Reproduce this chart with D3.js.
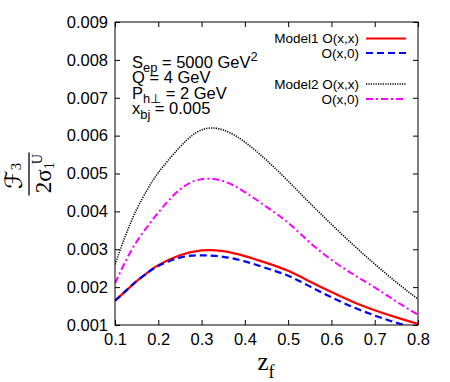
<!DOCTYPE html>
<html>
<head>
<meta charset="utf-8">
<script src="https://cdn.jsdelivr.net/npm/d3@7"></script>
<style>
  body { margin: 0; background: #fff; }
  svg { display: block; }
</style>
</head>
<body>
<div id="chart"></div>
<script>
// values
var zf = [0.1, 0.125, 0.15, 0.175, 0.2, 0.25, 0.3, 0.35, 0.4, 0.45, 0.5, 0.55, 0.6, 0.65, 0.7, 0.75, 0.8];
var model1xx = [0.00164, 0.0019, 0.00216, 0.00238, 0.00258, 0.00284, 0.00297, 0.00295, 0.00282, 0.00264, 0.00243, 0.00215, 0.00187, 0.00161, 0.00139, 0.0012, 0.00103];
var model1x0 = [0.00164, 0.0019, 0.00216, 0.00238, 0.00256, 0.00278, 0.00284, 0.0028, 0.00268, 0.0025, 0.0023, 0.00202, 0.00173, 0.00147, 0.00125, 0.00106, 0.0009];
var model2xx = [0.0026, 0.00338, 0.00405, 0.00458, 0.00502, 0.0057, 0.00615, 0.00615, 0.00583, 0.00535, 0.0048, 0.00422, 0.00366, 0.00312, 0.00261, 0.00213, 0.00168];
var model2x0 = [0.0021, 0.0027, 0.0032, 0.0036, 0.00397, 0.00458, 0.00485, 0.0048, 0.00451, 0.00412, 0.0037, 0.00318, 0.00272, 0.00234, 0.00199, 0.00162, 0.00127];
var xTicks = [0.1, 0.2, 0.3, 0.4, 0.5, 0.6, 0.7, 0.8];
var yTicks = [0.001, 0.002, 0.003, 0.004, 0.005, 0.006, 0.007, 0.008, 0.009];

(function() {
  var W = 450, H = 382;
  var pl = 115, pt = 22, pr = 418, pb = 325;

  var svg = d3.select("#chart").append("svg").attr("width", W).attr("height", H)
    .attr("font-family", "'Liberation Sans', Arial, sans-serif");

  var x = d3.scaleLinear().domain([0.1, 0.8]).range([pl, pr]);
  var y = d3.scaleLinear().domain([0.001, 0.009]).range([pb, pt]);

  var series = [
    { vals: model1xx, color: "#ff0000", dash: null, width: 2.2, label: "Model1 O(x,x)", ly: 38.5 },
    { vals: model1x0, color: "#0000ff", dash: "7,4", width: 2.2, label: "O(x,0)", ly: 53 },
    { vals: model2xx, color: "#000000", dash: "1.2,1.2", width: 1.6, label: "Model2 O(x,x)", ly: 84 },
    { vals: model2x0, color: "#ff00ff", dash: "7,3,2,3", width: 2, label: "O(x,0)", ly: 99 }
  ];

  // clip for curves
  svg.append("clipPath").attr("id", "clip").append("rect")
    .attr("x", pl).attr("y", pt).attr("width", pr - pl).attr("height", pb - pt);

  var line = d3.line().x(function(d) { return x(d[0]); }).y(function(d) { return y(d[1]); }).curve(d3.curveNatural);

  var curves = svg.append("g").attr("clip-path", "url(#clip)");
  series.forEach(function(s) {
    curves.append("path")
      .datum(zf.map(function(z, i) { return [z, s.vals[i]]; }))
      .attr("d", line)
      .attr("fill", "none")
      .attr("stroke", s.color)
      .attr("stroke-width", s.width)
      .attr("stroke-dasharray", s.dash);
  });

  // axes, ticks inward on all sides
  var tk = 5;
  var axB = svg.append("g").attr("transform", "translate(0," + pb + ")")
    .call(d3.axisBottom(x).tickValues(xTicks).tickSizeInner(-tk).tickSizeOuter(0).tickPadding(8).tickFormat(d3.format(".1f")));
  var axT = svg.append("g").attr("transform", "translate(0," + pt + ")")
    .call(d3.axisTop(x).tickValues(xTicks).tickSizeInner(-tk).tickSizeOuter(0).tickFormat(""));
  var axL = svg.append("g").attr("transform", "translate(" + pl + ",0)")
    .call(d3.axisLeft(y).tickValues(yTicks).tickSizeInner(-tk).tickSizeOuter(0).tickPadding(7).tickFormat(d3.format(".3f")));
  var axR = svg.append("g").attr("transform", "translate(" + pr + ",0)")
    .call(d3.axisRight(y).tickValues(yTicks).tickSizeInner(-tk).tickSizeOuter(0).tickFormat(""));
  [axB, axT, axL, axR].forEach(function(a) {
    a.attr("font-family", null).attr("font-size", null);
    a.select(".domain").remove();
    a.selectAll("line").attr("stroke", "#000");
    a.selectAll("text").attr("font-size", 16.5).attr("fill", "#000");
  });
  axB.selectAll("text").attr("dy", "0.71em");

  svg.append("rect").attr("x", pl).attr("y", pt).attr("width", pr - pl).attr("height", pb - pt)
    .attr("fill", "none").attr("stroke", "#000").attr("stroke-width", 1);

  // helper for sub/superscripts
  function rich(text, parts, size, scale) {
    var cur = 0;
    scale = scale || 0.72;
    parts.forEach(function(p) {
      var shift = p.s === "sub" ? size * 0.3 : (p.s === "sup" ? -size * 0.42 : 0);
      if (p.shift !== undefined) shift = p.shift;
      var t = text.append("tspan").text(p.t)
        .attr("dy", shift - cur)
        .attr("font-size", p.s ? size * scale : size);
      if (p.dx) t.attr("dx", p.dx);
      cur = shift;
    });
  }

  // legend
  series.forEach(function(s) {
    svg.append("line").attr("x1", 366).attr("x2", 406).attr("y1", s.ly).attr("y2", s.ly)
      .attr("stroke", s.color).attr("stroke-width", s.width).attr("stroke-dasharray", s.dash);
    svg.append("text").attr("x", 359).attr("y", s.ly + 4.8).attr("text-anchor", "end")
      .attr("font-size", 13.5).text(s.label);
  });

  // parameter annotation
  var fs = 16.5;
  var ann = [
    { y: 67.5, parts: [{ t: "S" }, { t: "ep", s: "sub" }, { t: " = 5000 GeV" }, { t: "2", s: "sup" }] },
    { y: 83, parts: [{ t: "Q = 4 GeV" }] },
    { y: 98.5, parts: [{ t: "P" }, { t: "h\u22a5", s: "sub" }, { t: " = 2 GeV" }] },
    { y: 114, parts: [{ t: "x" }, { t: "bj", s: "sub" }, { t: " = 0.005" }] }
  ];
  ann.forEach(function(a) {
    var t = svg.append("text").attr("x", 132).attr("y", a.y).attr("font-size", fs);
    rich(t, a.parts, fs, 0.78);
  });

  // x axis title
  var xt = svg.append("text").attr("x", 266).attr("y", 370).attr("text-anchor", "middle")
    .attr("font-family", "'Liberation Serif', 'Times New Roman', serif");
  rich(xt, [{ t: "z" }, { t: "f", s: "sub" }], 25);

  // y axis title as a fraction
  var yt = svg.append("g").attr("transform", "translate(29,174) rotate(-90)")
    .attr("font-family", "'Liberation Serif', 'DejaVu Serif', serif");
  yt.append("line").attr("x1", -21.5).attr("x2", 21.5).attr("y1", 0).attr("y2", 0)
    .attr("stroke", "#000").attr("stroke-width", 1.3);
  var num = yt.append("text").attr("x", -2).attr("y", -7).attr("text-anchor", "middle");
  rich(num, [{ t: "\u2131" }, { t: "3", s: "sub", shift: -1 }], 24, 0.62);
  num.select("tspan").attr("font-family", "'DejaVu Sans', serif");
  var den = yt.append("text").attr("x", 0.5).attr("y", 22).attr("text-anchor", "middle");
  rich(den, [{ t: "2\u03c3" }, { t: "1", s: "sub", shift: 3 }, { t: "U", s: "sup", shift: -9, dx: -2 }], 23, 0.62);
})();
</script>
</body>
</html>
